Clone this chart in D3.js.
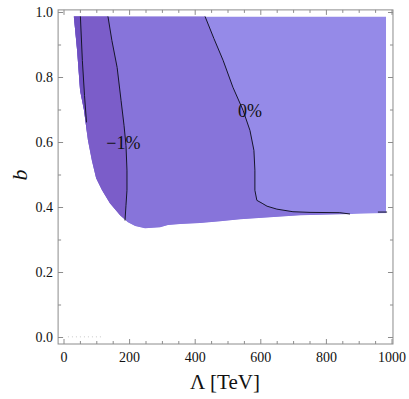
<!DOCTYPE html>
<html>
<head>
<meta charset="utf-8">
<script src="https://cdn.jsdelivr.net/npm/d3@7/dist/d3.min.js"></script>
<style>
  body { margin: 0; background: #fff; }
</style>
</head>
<body>
<script>

// edge of the region where the scan has values (Lambda in TeV, b)
var edgeL = [30, 40, 49, 61, 73, 85, 98, 116, 140, 171, 195, 217, 247, 293, 317, 354, 415, 476, 537, 628, 720, 842, 982, 982];
var edgeB = [0.988, 0.883, 0.760, 0.699, 0.607, 0.545, 0.490, 0.453, 0.413, 0.376, 0.355, 0.343, 0.336, 0.339, 0.346, 0.349, 0.352, 0.358, 0.364, 0.370, 0.376, 0.379, 0.382, 0.988];

// contour lines
var c2L = [50, 56, 62.5, 68.6];
var c2B = [0.988, 0.852, 0.745, 0.662];
var c1L = [134, 146, 162, 174, 183, 189, 192, 192, 189, 186];
var c1B = [0.988, 0.914, 0.831, 0.729, 0.653, 0.591, 0.515, 0.453, 0.407, 0.360];
var c0L = [430, 457, 485, 515, 546, 567, 579, 582, 582, 588, 604, 619, 649, 698, 750, 841, 872];
var c0B = [0.988, 0.920, 0.853, 0.770, 0.699, 0.637, 0.576, 0.515, 0.453, 0.422, 0.413, 0.404, 0.395, 0.387, 0.385, 0.384, 0.380];
var c0bL = [957, 985];
var c0bB = [0.386, 0.386];

// little specks near b = 0
var speckL = [12, 118];
var speckB = [0.002, 0.002];

// contour labels
var labelText = ["\u22121%", "0%"];
var labelL = [181, 567];
var labelB = [0.598, 0.699];

// ticks
var xMajor = [0, 200, 400, 600, 800, 1000];
var yMajor = [0.0, 0.2, 0.4, 0.6, 0.8, 1.0];

var width = 409, height = 399;

var x = d3.scaleLinear().domain([0, 1000]).range([64, 392]);
var y = d3.scaleLinear().domain([0, 1]).range([337.5, 12.5]);
var xlim = [-18, 1003], ylim = [-0.02, 1.008];

var svg = d3.select("body").append("svg")
    .attr("width", width)
    .attr("height", height)
    .style("font-family", "'Liberation Serif', 'Times New Roman', serif");

function pts(L, B) { return L.map(function(d, i) { return [d, B[i]]; }); }

var line = d3.line()
    .x(function(d) { return x(d[0]); })
    .y(function(d) { return y(d[1]); });

// region shape, used as clip
var edge = pts(edgeL, edgeB);
svg.append("clipPath").attr("id", "shape")
  .append("path")
    .attr("d", line(edge) + "Z");

// part of the plane left of a contour (clipped to the shape later)
function leftOf(L, B) {
  var p = pts(L, B);
  p.unshift([L[0], 1.3]);
  p.push([L[L.length - 1], 0.2]);
  p.push([-200, 0.2]);
  p.push([-200, 1.3]);
  return line(p) + "Z";
}

var g = svg.append("g").attr("clip-path", "url(#shape)");

g.append("path").attr("d", line(edge) + "Z").attr("fill", "#958ae8");
g.append("path").attr("d", leftOf(c0L, c0B)).attr("fill", "#8774da");
g.append("path").attr("d", leftOf(c1L, c1B)).attr("fill", "#7b5dc9");
g.append("path").attr("d", leftOf(c2L, c2B)).attr("fill", "#6e4fc1");

// contour lines
[[c2L, c2B], [c1L, c1B], [c0L, c0B], [c0bL, c0bB]].forEach(function(c) {
  svg.append("path")
      .attr("d", line(pts(c[0], c[1])))
      .attr("fill", "none")
      .attr("stroke", "#15152a")
      .attr("stroke-width", 1);
});

svg.append("path")
    .attr("d", line(pts(speckL, speckB)))
    .attr("fill", "none")
    .attr("stroke", "#c8c8c8")
    .attr("stroke-dasharray", "1,3");

// contour labels
svg.selectAll(".clab")
    .data(labelText)
  .enter().append("text")
    .attr("class", "clab")
    .attr("x", function(d, i) { return x(labelL[i]); })
    .attr("y", function(d, i) { return y(labelB[i]); })
    .attr("dy", "0.35em")
    .attr("text-anchor", "middle")
    .style("font-size", "18px")
    .attr("fill", "#111")
    .text(function(d) { return d; });

// frame
var fx0 = x(xlim[0]), fx1 = x(xlim[1]), fy0 = y(ylim[0]), fy1 = y(ylim[1]);
svg.append("rect")
    .attr("x", fx0).attr("y", fy1)
    .attr("width", fx1 - fx0).attr("height", fy0 - fy1)
    .attr("fill", "none")
    .attr("stroke", "#8c8c8c")
    .attr("stroke-width", 1);

var xMinor = d3.range(0, 1001, 50).filter(function(d) { return xMajor.indexOf(d) < 0; });
var yMinor = [0.1, 0.3, 0.5, 0.7, 0.9];

var ticks = svg.append("g").attr("stroke", "#8c8c8c").attr("stroke-width", 1);
function xt(v, len) {
  ticks.append("line").attr("x1", x(v)).attr("x2", x(v)).attr("y1", fy0).attr("y2", fy0 - len);
  ticks.append("line").attr("x1", x(v)).attr("x2", x(v)).attr("y1", fy1).attr("y2", fy1 + len);
}
function yt(v, len) {
  ticks.append("line").attr("y1", y(v)).attr("y2", y(v)).attr("x1", fx0).attr("x2", fx0 + len);
  ticks.append("line").attr("y1", y(v)).attr("y2", y(v)).attr("x1", fx1).attr("x2", fx1 - len);
}
xMajor.forEach(function(v) { xt(v, 5); });
xMinor.forEach(function(v) { xt(v, 3); });
yMajor.forEach(function(v) { yt(v, 5); });
yMinor.forEach(function(v) { yt(v, 3); });

// tick labels
svg.selectAll(".xl")
    .data(xMajor)
  .enter().append("text")
    .attr("x", function(d) { return x(d); })
    .attr("y", fy0 + 13)
    .attr("dy", "0.35em")
    .attr("text-anchor", "middle")
    .style("font-size", "14px")
    .attr("fill", "#111")
    .text(function(d) { return d; });

svg.selectAll(".yl")
    .data(yMajor)
  .enter().append("text")
    .attr("x", fx0 - 5)
    .attr("y", function(d) { return y(d); })
    .attr("dy", "0.35em")
    .attr("text-anchor", "end")
    .style("font-size", "14px")
    .attr("fill", "#111")
    .text(function(d) { return d3.format(".1f")(d); });

// axis labels
svg.append("text")
    .attr("x", 225)
    .attr("y", 382)
    .attr("dy", "0.35em")
    .attr("text-anchor", "middle")
    .style("font-size", "21px")
    .attr("fill", "#111")
    .text("\u039b [TeV]");

svg.append("text")
    .attr("transform", "translate(19," + y(0.5) + ") rotate(-90)")
    .attr("dy", "0.35em")
    .attr("text-anchor", "middle")
    .style("font-size", "22px")
    .style("font-style", "italic")
    .attr("fill", "#111")
    .text("b");

</script>
</body>
</html>
